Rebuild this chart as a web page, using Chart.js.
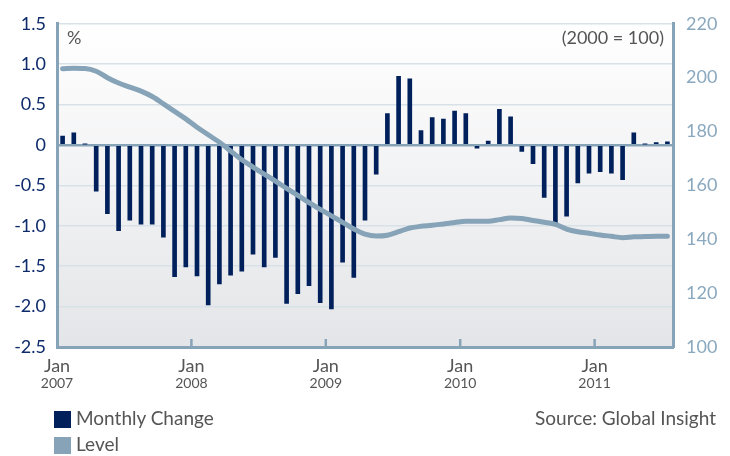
<!DOCTYPE html>
<html><head><meta charset="utf-8">
<script src="https://cdn.jsdelivr.net/npm/chart.js@4.4.0/dist/chart.umd.min.js"></script>
<style>
html,body{margin:0;padding:0;background:#fff;}
#wrap{position:relative;width:730px;height:456px;font-family:Lato,"Open Sans",sans-serif;color:#555;}
canvas{position:absolute;left:0;top:0;}
.t{position:absolute;white-space:nowrap;}
.sw{position:absolute;width:17px;height:17px;}
</style></head>
<body>
<div id="wrap">
<canvas id="c" width="730" height="456"></canvas>
<div class="t" style="left:67px;top:26px;font-size:18px;">%</div>
<div class="t" style="right:66px;top:26px;font-size:18px;">(2000 = 100)</div>
<div class="sw" style="left:54px;top:411px;background:#00205b;"></div>
<div class="t" style="left:76px;top:406px;font-size:19px;">Monthly Change</div>
<div class="sw" style="left:54px;top:437px;background:#86a3b8;"></div>
<div class="t" style="left:76px;top:432px;font-size:19px;">Level</div>
<div class="t" style="right:14px;top:406px;font-size:19px;">Source: Global Insight</div>
</div>
<script>
const years = ['2007','2008','2009','2010','2011'];
const monthNames = ['Jan','Feb','Mar','Apr','May','Jun','Jul','Aug','Sep','Oct','Nov','Dec'];
const monthlyChange = [
  0.11, 0.15, 0.01, -0.57, -0.85, -1.06, -0.93, -0.98, -0.98, -1.14, -1.63, -1.51,
  -1.62, -1.98, -1.72, -1.61, -1.56, -1.35, -1.51, -1.39, -1.96, -1.84, -1.74, -1.95,
  -2.03, -1.45, -1.64, -0.93, -0.36, 0.39, 0.85, 0.82, 0.18, 0.34, 0.32, 0.42,
  0.39, -0.04, 0.05, 0.44, 0.35, -0.08, -0.23, -0.65, -0.98, -0.88, -0.47, -0.35,
  -0.33, -0.35, -0.43, 0.15, 0.01, 0.03, 0.04
];
const level = [
  203.3, 203.5, 203.4, 202.4, 200.0, 198.0, 196.5, 195.0, 193.0, 190.3, 187.5, 184.7,
  181.6, 178.8, 176.0, 172.8, 169.5, 166.8, 164.2, 161.6, 158.9, 156.3, 153.6, 151.1,
  148.7, 146.3, 143.8, 141.9, 141.2, 141.5, 142.8, 144.2, 144.8, 145.2, 145.7, 146.2,
  146.7, 146.7, 146.7, 147.3, 147.9, 147.7, 147.0, 146.3, 145.5, 143.8, 142.8, 142.2,
  141.6, 141.1, 140.6, 140.9, 141.0, 141.1, 141.1
];
const leftTickRange = {min: -2.5, max: 1.5, step: 0.5};
const rightTickRange = {min: 100, max: 220, step: 20};

const labels = monthlyChange.map((_, i) => monthNames[i % 12] + ' ' + years[Math.floor(i / 12)]);

const AXIS = '#87a3b7';
const FONT = 'Lato, "Open Sans", sans-serif';

const bgPlugin = {
  id: 'bg',
  beforeDraw(chart) {
    const {ctx, chartArea: a} = chart;
    const g = ctx.createLinearGradient(0, a.top, 0, a.bottom);
    g.addColorStop(0, '#ffffff');
    g.addColorStop(1, '#e4e5e8');
    ctx.save();
    ctx.fillStyle = g;
    ctx.fillRect(a.left, a.top, a.right - a.left, a.bottom - a.top);
    ctx.restore();
  }
};

const xLabelPlugin = {
  id: 'xlab',
  afterDraw(chart) {
    const {ctx, chartArea: a} = chart;
    const xs = chart.scales.x;
    const half = (xs.getPixelForValue(1) - xs.getPixelForValue(0)) / 2;
    ctx.save();
    years.forEach((y, k) => {
      const x = xs.getPixelForValue(k * 12) - half;
      if (k > 0) {
        ctx.strokeStyle = AXIS;
        ctx.lineWidth = 2.5;
        ctx.beginPath();
        ctx.moveTo(x, a.bottom - 8);
        ctx.lineTo(x, a.bottom);
        ctx.stroke();
      }
      ctx.fillStyle = '#555';
      ctx.textAlign = 'center';
      ctx.textBaseline = 'middle';
      ctx.font = '18px ' + FONT;
      ctx.fillText(monthNames[0], x, a.bottom + 19);
      ctx.font = '14px ' + FONT;
      ctx.fillText(y, x, a.bottom + 36);
    });
    ctx.restore();
  }
};

new Chart(document.getElementById('c'), {
  data: {
    labels,
    datasets: [
      {
        type: 'line', label: 'Level', data: level, yAxisID: 'yR',
        borderColor: '#86a3b8', borderWidth: 5, pointRadius: 0,
        cubicInterpolationMode: 'monotone', order: 0, borderCapStyle: 'round'
      },
      {
        type: 'bar', label: 'Monthly Change', data: monthlyChange, yAxisID: 'yL',
        backgroundColor: '#00205b', barThickness: 4, order: 1
      }
    ]
  },
  options: {
    responsive: false,
    animation: false,
    layout: {padding: {top: 20, left: 0, right: 0, bottom: 0}},
    plugins: {legend: {display: false}, tooltip: {enabled: false}},
    scales: {
      x: {
        type: 'category', offset: true,
        grid: {display: false, drawTicks: false},
        border: {display: true, color: AXIS, width: 3},
        ticks: {display: false},
        afterFit(s) { s.height = 109; }
      },
      yL: {
        position: 'left',
        min: leftTickRange.min, max: leftTickRange.max,
        ticks: {
          stepSize: leftTickRange.step, padding: 11, color: '#0d2a6b',
          font: {family: FONT, size: 18},
          callback: v => (Math.abs(v) < 1e-9 ? '0' : Number(v).toFixed(1))
        },
        grid: {
          drawTicks: false,
          color: c => (c.tick && Math.abs(c.tick.value) < 1e-9 ? AXIS : '#d8e1e7'),
          lineWidth: c => (c.tick && Math.abs(c.tick.value) < 1e-9 ? 2.5 : 1.5)
        },
        border: {display: true, color: AXIS, width: 3},
        afterFit(s) { s.width = 57; }
      },
      yR: {
        position: 'right',
        min: rightTickRange.min, max: rightTickRange.max,
        ticks: {
          stepSize: rightTickRange.step, padding: 13, color: '#8aa8be',
          font: {family: FONT, size: 18}
        },
        grid: {drawOnChartArea: false, drawTicks: false},
        border: {display: true, color: AXIS, width: 3},
        afterFit(s) { s.width = 57; }
      }
    }
  },
  plugins: [bgPlugin, xLabelPlugin]
});
</script>
</body></html>
